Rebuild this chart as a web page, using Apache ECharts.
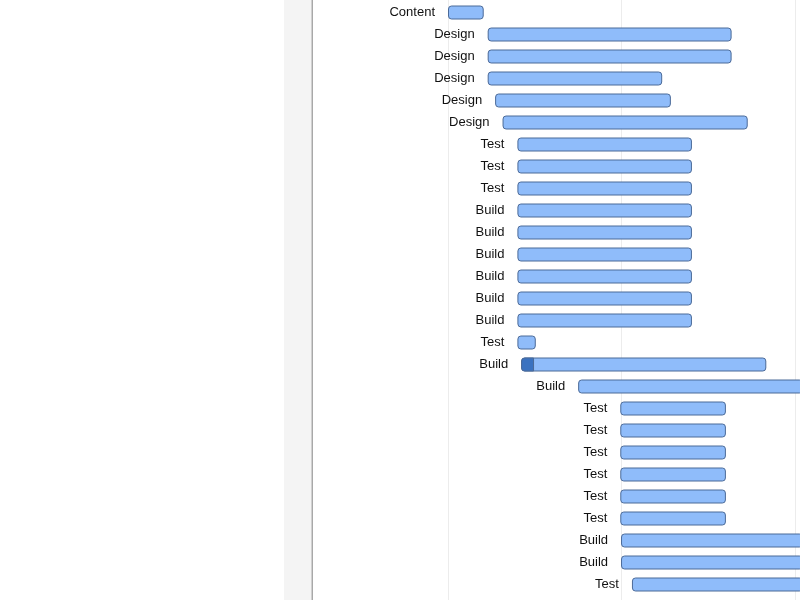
<!DOCTYPE html>
<html>
<head>
<meta charset="utf-8">
<script src="https://cdn.jsdelivr.net/npm/echarts@6/dist/echarts.min.js"></script>
<style>html,body{margin:0;padding:0;background:#fff}#c{width:800px;height:600px}</style>
</head>
<body>
<div id="c"></div>
<script>
// Task names (rows, top to bottom)
var taskNames = ['Content','Design','Design','Design','Design','Design','Test','Test','Test','Build','Build','Build','Build','Build','Build','Test','Build','Build','Test','Test','Test','Test','Test','Test','Build','Build','Test'];
// Start / end in days
var taskStart = [0,1.6,1.6,1.6,1.9,2.2,2.8,2.8,2.8,2.8,2.8,2.8,2.8,2.8,2.8,2.8,2.95,5.25,6.95,6.95,6.95,6.95,6.95,6.95,6.98,6.98,7.42];
var taskEnd   = [1.4,11.4,11.4,8.6,8.95,12.05,9.8,9.8,9.8,9.8,9.8,9.8,9.8,9.8,9.8,3.5,12.8,16,11.17,11.17,11.17,11.17,11.17,11.17,16,16,16];
// Progress (completed portion end, or null)
var taskProgress = [null,null,null,null,null,null,null,null,null,null,null,null,null,null,null,null,3.43,null,null,null,null,null,null,null,null,null,null];

var data = taskNames.map(function(n, i){ return [i, taskStart[i], taskEnd[i], taskProgress[i] == null ? -1 : taskProgress[i]]; });

var rowMin = -12 / 22;
var rowMax = rowMin + 600 / 22;

var chart = echarts.init(document.getElementById('c'), null, {renderer:'canvas'});
chart.setOption({
  animation: false,
  grid: {left: 274.5, right: 0, top: 0, bottom: 0, containLabel: false},
  xAxis: {
    type: 'value', min: -7, max: 14.2, interval: 7,
    axisLine: {show: false}, axisTick: {show: false}, axisLabel: {show: false},
    splitLine: {show: true, showMinLine: false, showMaxLine: false, lineStyle: {color: '#ececec', width: 1}}
  },
  yAxis: {
    type: 'value', inverse: true, min: rowMin, max: rowMax, show: false,
    axisLine: {show: false}, axisTick: {show: false}, axisLabel: {show: false}, splitLine: {show: false}
  },
  graphic: [
    {type: 'rect', shape: {x: 284, y: 0, width: 27.5, height: 600}, style: {fill: '#f4f4f4'}, z: 100},
    {type: 'rect', shape: {x: 311.5, y: 0, width: 1.5, height: 600}, style: {fill: '#a8a8a8'}, z: 100}
  ],
  series: [{
    type: 'custom',
    clip: false,
    data: data,
    encode: {x: [1, 2], y: 0},
    renderItem: function(params, api){
      var row = api.value(0);
      var p0 = api.coord([api.value(1), row]);
      var p1 = api.coord([api.value(2), row]);
      var h = 13;
      var right = Math.min(p1[0], 802);
      var children = [{
        type: 'rect',
        shape: {x: p0[0] + 0.5, y: p0[1] - h/2 + 0.5, width: right - p0[0], height: h, r: 3},
        style: {fill: '#8fbcfa', stroke: '#4b6a98', lineWidth: 1}
      }];
      var pr = api.value(3);
      if (pr >= 0) {
        var pp = api.coord([pr, row]);
        children.push({
          type: 'rect',
          shape: {x: p0[0] + 0.5, y: p0[1] - h/2 + 0.5, width: pp[0] - p0[0], height: h, r: [3,0,0,3]},
          style: {fill: '#3a72c0', stroke: '#4b6a98', lineWidth: 1}
        });
      }
      children.push({
        type: 'text',
        style: {
          x: p0[0] - 13, y: p0[1] + 0.5,
          text: taskNames[row],
          align: 'right', verticalAlign: 'middle',
          fill: '#111', fontSize: 13, fontFamily: 'Liberation Sans, Arial, sans-serif'
        }
      });
      return {type: 'group', children: children};
    }
  }]
});
</script>
</body>
</html>
